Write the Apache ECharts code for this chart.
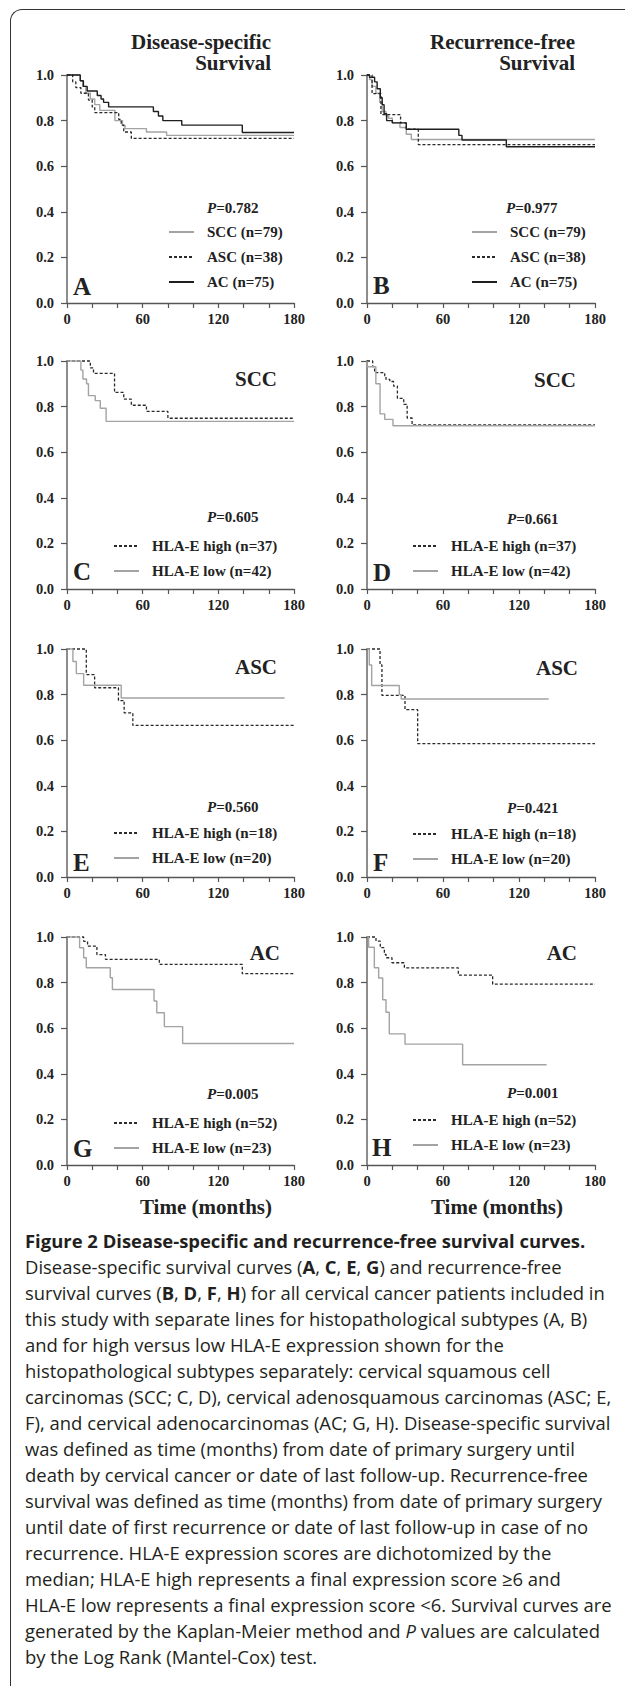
<!DOCTYPE html>
<html><head><meta charset="utf-8">
<script src="https://cdn.jsdelivr.net/npm/echarts@6/dist/echarts.min.js"></script>
<style>
html,body{margin:0;padding:0;background:#fff;width:625px;height:1686px;overflow:hidden;position:relative;}
#frame{position:absolute;left:10px;top:9px;width:700px;height:1800px;border-left:1.6px solid #333;border-top:1.6px solid #333;border-top-left-radius:12px;}
#chart{position:absolute;left:0;top:0;width:625px;height:1225px;}
#caption{position:absolute;left:25px;top:1228px;font-family:'Open Sans',sans-serif;color:#231f20;line-height:26px;white-space:nowrap;font-size:15px;}
#caption div{white-space:nowrap;}
</style></head>
<body>
<div id="frame"></div>
<div id="chart"></div>
<div id="caption">
<div><b>Figure 2 Disease-specific and recurrence-free survival curves.</b></div>
<div>Disease-specific survival curves (<b>A</b>, <b>C</b>, <b>E</b>, <b>G</b>) and recurrence-free</div>
<div>survival curves (<b>B</b>, <b>D</b>, <b>F</b>, <b>H</b>) for all cervical cancer patients included in</div>
<div>this study with separate lines for histopathological subtypes (A, B)</div>
<div>and for high versus low HLA-E expression shown for the</div>
<div>histopathological subtypes separately: cervical squamous cell</div>
<div>carcinomas (SCC; C, D), cervical adenosquamous carcinomas (ASC; E,</div>
<div id="fitline">F), and cervical adenocarcinomas (AC; G, H). Disease-specific survival</div>
<div>was defined as time (months) from date of primary surgery until</div>
<div>death by cervical cancer or date of last follow-up. Recurrence-free</div>
<div>survival was defined as time (months) from date of primary surgery</div>
<div>until date of first recurrence or date of last follow-up in case of no</div>
<div>recurrence. HLA-E expression scores are dichotomized by the</div>
<div>median; HLA-E high represents a final expression score ≥6 and</div>
<div>HLA-E low represents a final expression score &lt;6. Survival curves are</div>
<div>generated by the Kaplan-Meier method and <i>P</i> values are calculated</div>
<div>by the Log Rank (Mantel-Cox) test.</div>
</div>
<script>
// ---------- DATA ----------
const xTicks = [0, 60, 120, 180];
const yTickLabels = ['0.0', '0.2', '0.4', '0.6', '0.8', '1.0'];

// Panel A: disease-specific survival by subtype
const dssSCC = [[0,1],[10.5,0.975],[12.5,0.95],[15,0.92],[18.5,0.895],[22,0.87],[26,0.845],[38,0.80],[44,0.78],[46,0.765],[63,0.75],[79,0.735],[180,0.735]];
const dssASC = [[0,1],[4.5,0.97],[7,0.945],[11,0.92],[17,0.89],[20,0.86],[22,0.835],[41,0.805],[43,0.78],[45,0.75],[51,0.722],[180,0.722]];
const dssAC  = [[0,1],[10.5,0.975],[13,0.95],[16,0.93],[24,0.91],[27,0.895],[29,0.88],[33,0.86],[68.5,0.84],[72.5,0.82],[76,0.80],[91,0.78],[139,0.748],[180,0.748]];
// Panel B: recurrence-free survival by subtype
const rfsSCC = [[0,1],[2,0.98],[4,0.95],[7,0.92],[10,0.88],[12,0.84],[15,0.82],[17,0.81],[20,0.79],[26,0.77],[31,0.74],[35,0.717],[180,0.717]];
const rfsASC = [[0,1],[4,0.918],[11,0.826],[26.5,0.79],[31,0.762],[40.5,0.695],[180,0.695]];
const rfsAC  = [[0,1],[2,0.99],[6,0.97],[8,0.94],[10.5,0.90],[12,0.87],[13.5,0.83],[15.5,0.80],[20,0.79],[31,0.762],[72.5,0.735],[75,0.715],[110,0.685],[180,0.685]];
// Panel C/D: SCC by HLA-E
const dssSCCHigh = [[0,1],[18.5,0.97],[21,0.946],[37.7,0.862],[45,0.833],[51,0.806],[63,0.779],[80,0.749],[180,0.749]];
const dssSCCLow  = [[0,1],[11,0.96],[12.6,0.921],[15.5,0.90],[17,0.848],[22.4,0.826],[26.4,0.793],[31,0.735],[180,0.735]];
const rfsSCCHigh = [[0,1],[4.5,0.975],[6,0.949],[14,0.935],[15,0.919],[18,0.91],[21,0.89],[24,0.836],[29,0.81],[31.7,0.75],[35.6,0.72],[180,0.72]];
const rfsSCCLow  = [[0,1],[0,0.975],[7,0.90],[10.3,0.768],[14,0.744],[20.5,0.716],[180,0.716]];
// Panel E/F: ASC by HLA-E
const dssASCHigh = [[0,1],[15.3,0.888],[21.9,0.83],[40.8,0.774],[45.3,0.72],[52.2,0.665],[180,0.665]];
const dssASCLow  = [[0,1],[4.7,0.945],[7.4,0.892],[13.2,0.841],[43,0.785],[172.6,0.785]];
const rfsASCHigh = [[0,1],[10.3,0.93],[11.8,0.797],[30,0.734],[40,0.585],[180,0.585]];
const rfsASCLow  = [[0,1],[1.8,0.93],[3.7,0.84],[25.5,0.80],[27,0.781],[143.4,0.781]];
// Panel G/H: AC by HLA-E
const dssACHigh = [[0,1],[13.2,0.981],[16.3,0.96],[23.7,0.923],[30.5,0.902],[73.2,0.88],[139,0.839],[180,0.839]];
const dssACLow  = [[0,1],[10,0.953],[13.2,0.909],[15.3,0.865],[34.3,0.821],[36,0.77],[69,0.719],[71.2,0.668],[77.2,0.607],[91.7,0.533],[180,0.533]];
const rfsACHigh = [[0,1],[7.1,0.982],[10.5,0.953],[13.7,0.924],[15,0.909],[19.7,0.887],[29.5,0.865],[72.1,0.833],[99.2,0.793],[180,0.793]];
const rfsACLow  = [[0,1],[1.3,0.955],[5.8,0.865],[9.2,0.82],[12.4,0.725],[15,0.67],[17.6,0.575],[30,0.53],[75.5,0.44],[141.8,0.44]];

const pValues = ['0.782','0.977','0.605','0.661','0.560','0.421','0.005','0.001'];
const panelLetters = ['A','B','C','D','E','F','G','H'];
const subtypeLabels = [null,null,'SCC','SCC','ASC','ASC','AC','AC'];
const names = {
  all: ['SCC (n=79)','ASC (n=38)','AC (n=75)'],
  scc: ['HLA-E high (n=37)','HLA-E low (n=42)'],
  asc: ['HLA-E high (n=18)','HLA-E low (n=20)'],
  ac:  ['HLA-E high (n=52)','HLA-E low (n=23)']
};

// ---------- STYLES / LAYOUT ----------
const GRAY = {color:'#a3a3a3', width:1.4, type:'solid'};
const DARK = {color:'#1e1e1e', width:1.4, type:'solid'};
const DASH = {color:'#2a2a2a', width:1.3, type:[3,2]};

const panels = [
  {curves:[[names.all[0],dssSCC,GRAY],[names.all[1],dssASC,DASH],[names.all[2],dssAC,DARK]]},
  {curves:[[names.all[0],rfsSCC,GRAY],[names.all[1],rfsASC,DASH],[names.all[2],rfsAC,DARK]]},
  {curves:[[names.scc[0],dssSCCHigh,DASH],[names.scc[1],dssSCCLow,GRAY]]},
  {curves:[[names.scc[0],rfsSCCHigh,DASH],[names.scc[1],rfsSCCLow,GRAY]]},
  {curves:[[names.asc[0],dssASCHigh,DASH],[names.asc[1],dssASCLow,GRAY]]},
  {curves:[[names.asc[0],rfsASCHigh,DASH],[names.asc[1],rfsASCLow,GRAY]]},
  {curves:[[names.ac[0],dssACHigh,DASH],[names.ac[1],dssACLow,GRAY]]},
  {curves:[[names.ac[0],rfsACHigh,DASH],[names.ac[1],rfsACLow,GRAY]]}
];
const colLeft = [67, 367], colW = [227, 228];
const rowTop = [75, 361, 649, 937], rowH = 228;
const legendPos = [
  {left:168, top:224}, {left:471, top:224},
  {left:113, top:538}, {left:412, top:538},
  {left:113, top:825}, {left:412, top:826},
  {left:113, top:1115}, {left:412, top:1112}
];
const pPos = [[207,208],[506,208],[207,517],[507,519],[207,807],[507,808],[207,1094],[507,1093]];
const letterPos = [[73,286],[373,285],[73,571],[373,572],[73,862],[373,862],[73,1148],[372,1147]];
const subtypePos = [null,null,[277,379],[576,380],[277,667],[578,668],[280,953],[577,953]];

const SERIF = "'Liberation Serif','Times New Roman',serif";
const option = {
  animation:false,
  grid:[], xAxis:[], yAxis:[], series:[], legend:[], graphic:[]
};
panels.forEach((p, i) => {
  const c = i % 2, r = Math.floor(i / 2);
  option.grid.push({left:colLeft[c], top:rowTop[r], width:colW[c], height:rowH, containLabel:false});
  option.xAxis.push({
    type:'value', gridIndex:i, min:xTicks[0], max:xTicks[xTicks.length-1], interval:xTicks[1]-xTicks[0],
    axisLine:{show:true, onZero:false, lineStyle:{color:'#555', width:1.3}},
    axisTick:{show:true, length:5, lineStyle:{color:'#555', width:1.2}},
    minorTick:{show:true, splitNumber:3, length:5, lineStyle:{color:'#555', width:1.2}},
    splitLine:{show:false},
    axisLabel:{margin:8, fontFamily:SERIF, fontWeight:'bold', fontSize:14.5, color:'#222'}
  });
  option.yAxis.push({
    type:'value', gridIndex:i, min:0, max:1, interval:0.2,
    axisLine:{show:true, onZero:false, lineStyle:{color:'#808080', width:1.8}},
    axisTick:{show:true, length:6, lineStyle:{color:'#555', width:1.2}},
    splitLine:{show:false},
    axisLabel:{margin:13, fontFamily:SERIF, fontWeight:'bold', fontSize:14.5, color:'#222',
      formatter:(v)=>yTickLabels[Math.round(v/0.2)]}
  });
  p.curves.forEach(([name, data, ls]) => {
    option.series.push({
      type:'line', name, data, xAxisIndex:i, yAxisIndex:i, step:'end',
      symbol:'none', showSymbol:false, clip:false, lineStyle:Object.assign({}, ls),
      itemStyle:{color:ls.color}, emphasis:{disabled:true}, silent:true
    });
  });
  option.legend.push({
    orient:'vertical', left:legendPos[i].left, top:legendPos[i].top, padding:0,
    itemWidth:25, itemHeight:14, itemGap:9, selectedMode:false,
    itemStyle:{color:'transparent', borderColor:'transparent', borderWidth:0, opacity:0},
    data:p.curves.map(cv=>cv[0]),
    textStyle:{fontFamily:SERIF, fontWeight:'bold', fontSize:15, color:'#222', lineHeight:16, padding:[0,0,0,8]}
  });
  option.graphic.push({
    type:'text', x:pPos[i][0], y:pPos[i][1],
    style:{text:'{i|P}=' + pValues[i], font:"bold 15px " + SERIF, fill:'#222', textVerticalAlign:'middle',
      rich:{i:{fontStyle:'italic', fontWeight:'bold', fontSize:15, fontFamily:SERIF, fill:'#222'}}}
  });
  option.graphic.push({
    type:'text', x:letterPos[i][0], y:letterPos[i][1],
    style:{text:panelLetters[i], font:"bold 25px " + SERIF, fill:'#222', textVerticalAlign:'middle'}
  });
  if (subtypeLabels[i]) {
    option.graphic.push({
      type:'text', x:subtypePos[i][0], y:subtypePos[i][1],
      style:{text:subtypeLabels[i], font:"bold 21px " + SERIF, fill:'#222', textAlign:'right', textVerticalAlign:'middle'}
    });
  }
});
// column titles and axis names
[['Disease-specific',271,42],['Survival',271,63],['Recurrence-free',575,42],['Survival',575,63]].forEach(([t,x,y])=>{
  option.graphic.push({type:'text', x, y, style:{text:t, font:"bold 21px " + SERIF, fill:'#222', textAlign:'right', textVerticalAlign:'middle'}});
});
[[206,1207],[497,1207]].forEach(([x,y])=>{
  option.graphic.push({type:'text', x, y, style:{text:'Time (months)', font:"bold 21px " + SERIF, fill:'#222', textAlign:'center', textVerticalAlign:'middle'}});
});

const chart = echarts.init(document.getElementById('chart'), null, {renderer:'svg'});
chart.setOption(option);

// fit caption font size so reference line width matches
const fit = document.getElementById('fitline');
const w = fit.getBoundingClientRect().width;
const target = 587;
const cap = document.getElementById('caption');
cap.style.fontSize = (15 * target / w).toFixed(2) + 'px';
</script>
</body></html>
